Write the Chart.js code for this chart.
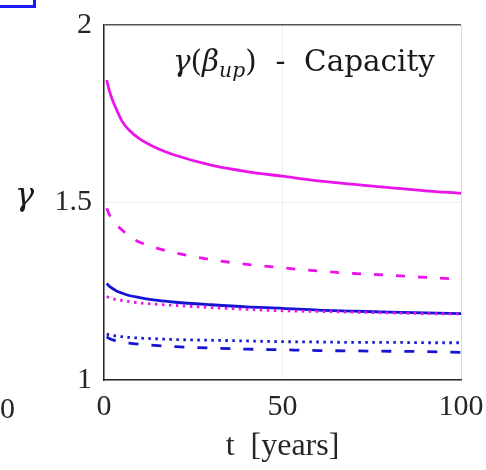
<!DOCTYPE html>
<html>
<head>
<meta charset="utf-8">
<script src="https://cdn.jsdelivr.net/npm/chart.js@4.4.0/dist/chart.umd.min.js"></script>
<style>
  html, body { margin: 0; padding: 0; background: #fff; overflow: hidden; }
  #wrap { position: relative; width: 486px; height: 470px; }
  #legendCorner {
    position: absolute; left: -60px; top: -30px;
    width: 90px; height: 32px;
    border: 3px solid #1a1aff; background: #fff;
  }
</style>
</head>
<body>
<div id="wrap">
  <canvas id="chart" width="486" height="470"></canvas>
  <div id="legendCorner"></div>
</div>
<script>
// time samples [years]
const tValues = [0.75, 1.5, 2.5, 3.5, 5, 7, 10, 15, 20, 30, 40, 50, 60, 70, 80, 90, 100];

// gamma values
const magentaSolid  = [1.845, 1.815, 1.785, 1.762, 1.730, 1.704, 1.679, 1.652, 1.633, 1.605, 1.587, 1.574, 1.561, 1.551, 1.542, 1.533, 1.526];
const magentaDashed = [1.484, 1.466, 1.450, 1.437, 1.423, 1.405, 1.388, 1.371, 1.358, 1.339, 1.326, 1.316, 1.307, 1.300, 1.295, 1.289, 1.284];
const magentaDotted = [1.235, 1.232, 1.229, 1.227, 1.224, 1.221, 1.217, 1.213, 1.210, 1.204, 1.199, 1.195, 1.193, 1.191, 1.189, 1.187, 1.186];
const blueSolid     = [1.272, 1.264, 1.257, 1.251, 1.245, 1.238, 1.232, 1.224, 1.219, 1.212, 1.206, 1.202, 1.197, 1.194, 1.191, 1.189, 1.187];
const blueDotted    = [1.129, 1.127, 1.125, 1.124, 1.122, 1.120, 1.118, 1.116, 1.114, 1.112, 1.110, 1.108, 1.107, 1.106, 1.106, 1.105, 1.105];
const blueDashed    = [1.122, 1.117, 1.113, 1.110, 1.107, 1.104, 1.101, 1.097, 1.094, 1.090, 1.087, 1.085, 1.083, 1.082, 1.081, 1.080, 1.078];

const xTicks = [0, 50, 100];
const yTicks = [1, 1.5, 2];

const MAGENTA = "#ea14ea";
const BLUE = "#1414d2";
const SERIF = "'Liberation Serif', 'DejaVu Serif', serif";
const WIDE_SERIF = "'DejaVu Serif', serif";

function pts(values) {
  return values.map((v, i) => ({ x: tValues[i], y: v }));
}

function series(values, color, dash) {
  return {
    data: pts(values),
    borderColor: color,
    borderWidth: 2.8,
    borderDash: dash,
    pointRadius: 0,
    fill: false,
    cubicInterpolationMode: "monotone",
  };
}

// the scales should not push the plot area in; layout padding decides
function noPad(scale) {
  scale.paddingLeft = 0;
  scale.paddingRight = 0;
  scale.paddingTop = 0;
  scale.paddingBottom = 0;
}

// extra text: inner title, upright gamma label, cut-off neighbour tick
const textPlugin = {
  id: "texts",
  afterDraw(chart) {
    const ctx = chart.ctx;
    ctx.save();
    ctx.fillStyle = "#1a1a1a";
    ctx.textBaseline = "alphabetic";

    // title inside the axes, stretched to the width it has in the figure
    const parts = [
      { s: "γ", f: "italic 29px " + WIDE_SERIF, dy: 0 },
      { s: "(", f: "29px " + WIDE_SERIF, dy: 0 },
      { s: "β", f: "italic 29px " + WIDE_SERIF, dy: 0 },
      { s: "up", f: "italic 20px " + WIDE_SERIF, dy: 6 },
      { s: ")  -  Capacity", f: "29px " + WIDE_SERIF, dy: 0 },
    ];
    let total = 0;
    parts.forEach((p) => {
      ctx.font = p.f;
      p.w = ctx.measureText(p.s).width;
      total += p.w;
    });
    ctx.save();
    ctx.translate(173, 71);
    ctx.scale(262 / total, 1);
    let x = 0;
    parts.forEach((p) => {
      ctx.font = p.f;
      ctx.fillText(p.s, x, p.dy);
      x += p.w;
    });
    ctx.restore();

    // y label
    ctx.font = "italic 32px " + WIDE_SERIF;
    ctx.fillText("γ", 15, 205);

    // tick of the neighbouring panel, cut by the frame
    ctx.font = "30px " + SERIF;
    ctx.textAlign = "right";
    ctx.fillStyle = "#262626";
    ctx.fillText("100", 15, 418);
    ctx.restore();
  },
};

const ctx = document.getElementById("chart").getContext("2d");
const chart = new Chart(ctx, {
  type: "line",
  data: {
    datasets: [
      series(magentaSolid, MAGENTA, []),
      series(magentaDashed, MAGENTA, [9, 13]),
      series(magentaDotted, MAGENTA, [2.5, 4.5]),
      series(blueSolid, BLUE, []),
      series(blueDotted, BLUE, [2.5, 4.5]),
      series(blueDashed, BLUE, [10, 13]),
    ],
  },
  options: {
    responsive: false,
    animation: false,
    layout: { padding: { top: 25, right: 25, left: 0, bottom: 0 } },
    plugins: {
      legend: { display: false },
      tooltip: { enabled: false },
    },
    scales: {
      x: {
        type: "linear",
        min: 0,
        max: 100,
        afterFit(scale) {
          scale.height = 90;
          noPad(scale);
        },
        afterBuildTicks(scale) {
          scale.ticks = xTicks.map((v) => ({ value: v }));
        },
        ticks: {
          color: "#262626",
          font: { family: SERIF, size: 30 },
          padding: 9,
          maxRotation: 0,
          autoSkip: false,
        },
        grid: {
          drawTicks: false,
          color: (c) => (c.tick && c.tick.value === 100 ? "#d8d8d8" : "#eeeeee"),
          lineWidth: 1,
        },
        border: { color: "#262626", width: 1.5 },
        title: {
          display: true,
          text: "t  [years]",
          color: "#262626",
          font: { family: SERIF, size: 32 },
          padding: { top: 0, bottom: 4 },
        },
      },
      y: {
        min: 1,
        max: 2,
        afterFit(scale) {
          scale.width = 104;
          noPad(scale);
        },
        afterBuildTicks(scale) {
          scale.ticks = yTicks.map((v) => ({ value: v }));
        },
        ticks: {
          color: "#262626",
          font: { family: SERIF, size: 30 },
          padding: 12,
          callback: (v) => String(v),
        },
        grid: {
          drawTicks: false,
          color: (c) => (c.tick && c.tick.value === 2 ? "#555555" : "#eeeeee"),
          lineWidth: (c) => (c.tick && c.tick.value === 2 ? 1.5 : 1),
        },
        border: { color: "#262626", width: 1.5 },
      },
    },
  },
  plugins: [textPlugin],
});
</script>
</body>
</html>
